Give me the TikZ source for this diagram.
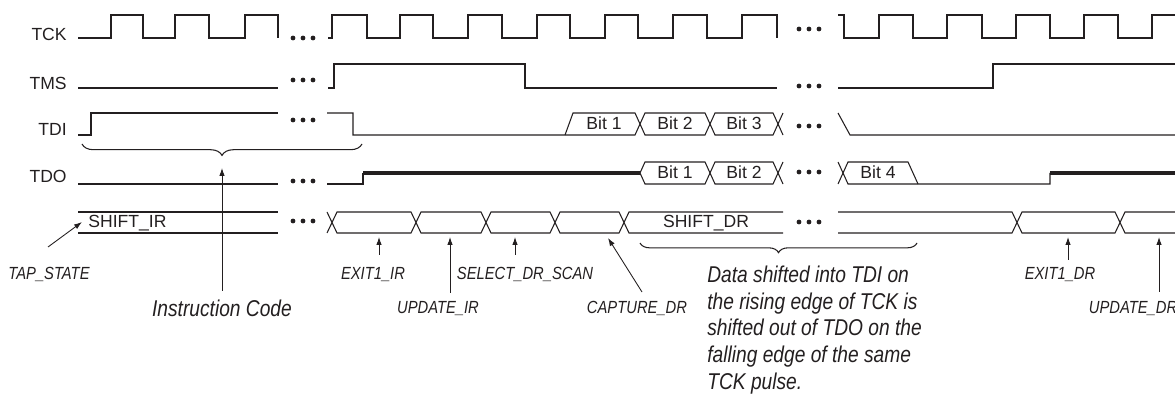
\documentclass[tikz,border=0pt]{standalone}
\usepackage{fontspec}
\setmainfont{Liberation Sans}
\newfontfamily\condfont[FakeStretch=0.84]{Liberation Sans}
\usepackage{tikz}
\usetikzlibrary{arrows.meta,decorations.pathreplacing}
\definecolor{InkBlack}{HTML}{231F20}

\begin{document}
\begin{tikzpicture}[x=0.02cm, y=-0.02cm, every node/.style={font=\fontsize{10}{12}\selectfont, text=InkBlack, inner sep=0pt}]
  \tikzstyle{wave}=[draw=InkBlack, line width=0.6pt]
  \tikzstyle{hiz}=[draw=InkBlack, line width=1.8pt]
  \tikzstyle{sig}=[anchor=base east]
  \tikzstyle{tapname}=[anchor=base, font=\condfont\itshape\fontsize{10}{12}\selectfont]
  \tikzstyle{note}=[font=\condfont\itshape\fontsize{13}{15.1}\selectfont]
  \tikzstyle{ptr}=[draw=InkBlack, line width=0.5pt, -{Latex[length=1.6mm,width=1.1mm]}]
  \tikzstyle{curly}=[draw=InkBlack, line width=0.6pt, decorate]
  \useasboundingbox (0,0) rectangle (1175,394);

  % signal names
  \node[sig] (tck) at (67,41) {TCK};
  \node[sig] (tms) at (67,90) {TMS};
  \node[sig] (tdi) at (67,136) {TDI};
  \node[sig] (tdo) at (67,183) {TDO};

  % TCK
  \draw[wave] (78,38) -- (111,38) -- (111,15) -- (143,15) -- (143,38) -- (175,38) -- (175,15) -- (209,15)
    -- (209,38) -- (245,38) -- (245,15) -- (278,15) -- (278,38);
  \draw[wave] (328,38) -- (332,38) -- (332,15) -- (367,15) -- (367,38) -- (400,38) -- (400,15) -- (433,15)
    -- (433,38) -- (468,38) -- (468,15) -- (502,15) -- (502,38) -- (537,38) -- (537,15) -- (570,15)
    -- (570,38) -- (605,38) -- (605,15) -- (638,15) -- (638,38) -- (673,38) -- (673,15) -- (707,15)
    -- (707,38) -- (742,38) -- (742,15) -- (777,15) -- (777,38);
  \draw[wave] (838,15) -- (844,15) -- (844,38) -- (879,38) -- (879,15) -- (913,15) -- (913,38) -- (947,38)
    -- (947,15) -- (982,15) -- (982,38) -- (1016,38) -- (1016,15) -- (1050,15) -- (1050,38) -- (1084,38)
    -- (1084,15) -- (1118,15) -- (1118,38) -- (1152,38) -- (1152,15) -- (1175,15);

  % TMS
  \draw[wave] (78,88) -- (278,88);
  \draw[wave] (328,88) -- (334,88) -- (334,64) -- (525,64) -- (525,88) -- (777,88);
  \draw[wave] (838,88) -- (993,88) -- (993,64) -- (1175,64);

  % TDI
  \draw[wave] (78,135) -- (91,135) -- (91,113) -- (278,113);
  \draw[wave] (327,113) -- (353,113) -- (353,135) -- (635,135) -- (645,113) -- (705,113) -- (715,135) -- (773,135) -- (783,113);
  \draw[wave] (565,135) -- (573,113) -- (635,113) -- (645,135) -- (705,135) -- (715,113) -- (773,113) -- (783,135);
  \draw[wave] (838,113) -- (850,135) -- (1175,135);
  \node[anchor=base] (tdibita) at (604,130) {Bit 1};
  \node[anchor=base] (tdibitb) at (675,130) {Bit 2};
  \node[anchor=base] (tdibitc) at (744,130) {Bit 3};

  % TDO
  \draw[wave] (78,184) -- (278,184);
  \draw[wave] (327,184) -- (363,184) -- (363,173);
  \draw[hiz] (363,173) -- (640,173);
  \draw[wave] (640,173) -- (645,162) -- (705,162) -- (715,184) -- (773,184) -- (783,162);
  \draw[wave] (640,173) -- (645,184) -- (705,184) -- (715,162) -- (773,162) -- (783,184);
  \draw[wave] (838,162) -- (848,184) -- (1050,184) -- (1050,173);
  \draw[wave] (838,184) -- (848,162) -- (908,162) -- (918,184);
  \draw[hiz] (1050,173) -- (1175,173);
  \node[anchor=base] (tdobita) at (675,179) {Bit 1};
  \node[anchor=base] (tdobitb) at (744,179) {Bit 2};
  \node[anchor=base] (tdobitd) at (878,179) {Bit 4};

  % TAP state bus
  \draw[wave] (78,212) -- (278,212) (78,233) -- (278,233);
  \draw[wave] (327,212) -- (337,233) -- (411,233) -- (421,212) -- (481,212) -- (491,233) -- (550,233)
    -- (560,212) -- (619,212) -- (629,233) -- (783,233);
  \draw[wave] (327,233) -- (337,212) -- (411,212) -- (421,233) -- (481,233) -- (491,212) -- (550,212)
    -- (560,233) -- (619,233) -- (629,212) -- (783,212);
  \draw[wave] (838,212) -- (1012,212) -- (1022,233) -- (1115,233) -- (1125,212) -- (1175,212);
  \draw[wave] (838,233) -- (1012,233) -- (1022,212) -- (1115,212) -- (1125,233) -- (1175,233);
  \node[anchor=base west] (shiftir) at (88,228) {SHIFT\_IR};
  \node[anchor=base] (shiftdr) at (706,228) {SHIFT\_DR};

  % gaps
  \foreach \x in {293,303,313} {
    \fill[InkBlack] (\x,38) circle (2.4);
    \fill[InkBlack] (\x,80) circle (2.4);
    \fill[InkBlack] (\x,120) circle (2.4);
    \fill[InkBlack] (\x,181) circle (2.4);
    \fill[InkBlack] (\x,221) circle (2.4);
  }
  \foreach \x in {799,809,819} {
    \fill[InkBlack] (\x,29) circle (2.4);
    \fill[InkBlack] (\x,86) circle (2.4);
    \fill[InkBlack] (\x,126) circle (2.4);
    \fill[InkBlack] (\x,172) circle (2.4);
    \fill[InkBlack] (\x,222) circle (2.4);
  }

  % braces
  \draw[curly, decoration={brace, amplitude=6.5pt}] (362,144) -- (82,144);
  \draw[curly, decoration={brace, amplitude=5.5pt}] (917,243) -- (640,243);

  % state labels and pointers
  \node[tapname] (tapstate) at (49,280) {TAP\_STATE};
  \node[tapname] (exitir) at (373,280) {EXIT1\_IR};
  \node[tapname] (updateir) at (438,314) {UPDATE\_IR};
  \node[tapname] (selectdr) at (525,280) {SELECT\_DR\_SCAN};
  \node[tapname] (capturedr) at (637,314) {CAPTURE\_DR};
  \node[tapname] (exitdr) at (1060,280) {EXIT1\_DR};
  \node[tapname] (updatedr) at (1133,314) {UPDATE\_DR};
  \node[note, anchor=base] (instr) at (222,317) {Instruction Code};
  \node[note, anchor=north west, align=left] (datanote) at (707,266) {Data shifted into TDI on\\the rising edge of TCK is\\shifted out of TDO on the\\falling edge of the same\\TCK pulse.};

  \coordinate (tapfoot) at (48,247);     \coordinate (taptip) at (82,222);
  \coordinate (instrfoot) at (222,291);  \coordinate (instrtip) at (222,168);
  \coordinate (exitirfoot) at (379,255); \coordinate (exitirtip) at (379,237);
  \coordinate (updirfoot) at (450,293);  \coordinate (updirtip) at (450,237);
  \coordinate (seldrfoot) at (515,255);  \coordinate (seldrtip) at (515,237);
  \coordinate (capdrfoot) at (642,292);  \coordinate (capdrtip) at (608,238);
  \coordinate (exitdrfoot) at (1068,260); \coordinate (exitdrtip) at (1068,237);
  \coordinate (upddrfoot) at (1159,292); \coordinate (upddrtip) at (1159,237);
  \draw[ptr] (tapfoot) -- (taptip);
  \draw[ptr] (instrfoot) -- (instrtip);
  \draw[ptr] (exitirfoot) -- (exitirtip);
  \draw[ptr] (updirfoot) -- (updirtip);
  \draw[ptr] (seldrfoot) -- (seldrtip);
  \draw[ptr] (capdrfoot) -- (capdrtip);
  \draw[ptr] (exitdrfoot) -- (exitdrtip);
  \draw[ptr] (upddrfoot) -- (upddrtip);
\end{tikzpicture}
\end{document}
